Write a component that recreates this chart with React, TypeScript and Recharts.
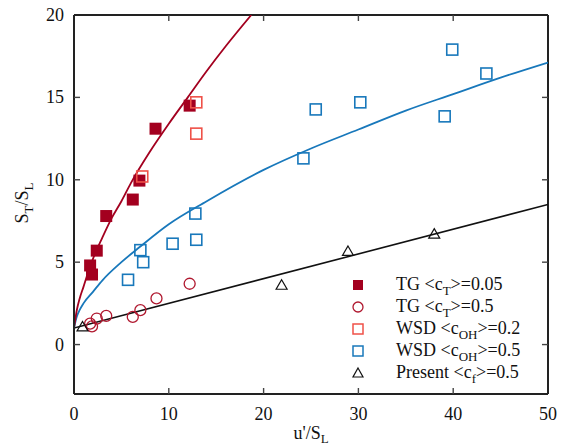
import React from 'react';
import {
  ComposedChart,
  Line,
  Scatter,
  XAxis,
  YAxis,
  ReferenceLine,
} from 'recharts';

const tg005X = [1.7, 1.9, 2.4, 3.4, 6.2, 6.9, 8.6, 12.2];
const tg005Y = [4.8, 4.25, 5.7, 7.8, 8.8, 9.95, 13.1, 14.5];

const tg05X = [1.7, 1.9, 2.4, 3.4, 6.2, 7.0, 8.7, 12.2];
const tg05Y = [1.27, 1.1, 1.58, 1.74, 1.68, 2.09, 2.8, 3.69];

const wsd02X = [7.2, 12.9, 12.9];
const wsd02Y = [10.2, 14.7, 12.8];

const wsd05X = [5.7, 7.0, 7.3, 10.4, 12.8, 12.9, 24.2, 25.5, 30.2, 39.1, 39.9, 43.5];
const wsd05Y = [3.93, 5.73, 5.0, 6.12, 7.95, 6.36, 11.3, 14.27, 14.7, 13.85, 17.9, 16.45];

const presentX = [0.9, 21.9, 28.9, 38.0];
const presentY = [1.07, 3.6, 5.65, 6.7];

// fitted curves
const redX = [0, 0.3, 0.6, 1, 1.5, 2, 3, 4, 5, 6, 8, 10, 12, 14, 16, 18.7];
const redY = [1.0, 2.1, 2.8, 3.5, 4.4, 5.2, 6.5, 7.7, 8.7, 9.8, 11.7, 13.4, 15.0, 16.6, 18.1, 20.0];

const blueX = [0, 0.3, 0.6, 1, 2, 3, 5, 7, 10, 14, 20, 25, 30, 35, 40, 45, 50];
const blueY = [1.0, 1.7, 2.1, 2.5, 3.2, 3.9, 5.0, 5.95, 7.3, 8.7, 10.6, 11.9, 13.05, 14.2, 15.2, 16.2, 17.12];

const blackX = [0, 50];
const blackY = [1.0, 8.5];

const xTicks = [0, 10, 20, 30, 40, 50];
const yTicks = [0, 5, 10, 15, 20];

const pts = (xs: number[], ys: number[]) => xs.map((x, i) => ({ x, y: ys[i] }));

const W = 561;
const H = 447;
const M = { top: 15, right: 13, bottom: 0, left: 0 };
const Y_AXIS_W = 74;
const X_AXIS_H = 53;
const PLOT_L = Y_AXIS_W;
const PLOT_R = W - M.right;
const PLOT_T = M.top;
const PLOT_B = H - X_AXIS_H;

const FONT = '"Liberation Serif", "DejaVu Serif", serif';
const DARK_RED = '#a3001f';
const RED = '#b0182f';
const LIGHT_RED = '#ef5148';
const BLUE = '#1878bb';
const FRAME = '#222';

const FilledSquare = ({ cx, cy }: any) => (
  <rect x={cx - 6} y={cy - 6} width={12} height={12} fill={DARK_RED} />
);
const OpenCircle = ({ cx, cy }: any) => (
  <circle cx={cx} cy={cy} r={5.5} fill="none" stroke={RED} strokeWidth={1.3} />
);
const OpenSquare = (color: string) => ({ cx, cy }: any) => (
  <rect x={cx - 5.5} y={cy - 5.5} width={11} height={11} fill="none" stroke={color} strokeWidth={1.6} />
);
const Triangle = ({ cx, cy }: any) => (
  <path d={`M${cx},${cy - 5.5} L${cx + 5.5},${cy + 4} L${cx - 5.5},${cy + 4} Z`} fill="none" stroke="#111" strokeWidth={1.2} />
);

const XTick = ({ x, y, payload }: any) => {
  const edge = payload.value === 0 || payload.value === 50;
  return (
    <g>
      {!edge && (
        <>
          <line x1={x} x2={x} y1={PLOT_B} y2={PLOT_B - 6} stroke="#444" strokeWidth={1.4} />
          <line x1={x} x2={x} y1={PLOT_T} y2={PLOT_T + 6} stroke="#444" strokeWidth={1.4} />
        </>
      )}
      <text x={x} y={y + 26} textAnchor="middle" fontFamily={FONT} fontSize={18} fill="#111">
        {payload.value}
      </text>
    </g>
  );
};

const YTick = ({ x, y, payload }: any) => {
  const edge = payload.value === 20;
  return (
    <g>
      {!edge && (
        <>
          <line x1={PLOT_L} x2={PLOT_L + 6} y1={y} y2={y} stroke="#444" strokeWidth={1.4} />
          <line x1={PLOT_R} x2={PLOT_R - 6} y1={y} y2={y} stroke="#444" strokeWidth={1.4} />
        </>
      )}
      <text x={x} y={y + 6} textAnchor="end" fontFamily={FONT} fontSize={18} fill="#111">
        {payload.value}
      </text>
    </g>
  );
};

const XLabel = () => (
  <text x={311} y={439} textAnchor="middle" fontFamily={FONT} fontSize={18} fill="#111">
    u'/S<tspan fontSize={13} dy={4}>L</tspan>
  </text>
);

const YLabel = () => (
  <text
    x={0}
    y={0}
    transform="translate(28,203) rotate(-90)"
    textAnchor="middle"
    fontFamily={FONT}
    fontSize={18}
    fill="#111"
  >
    S<tspan fontSize={13} dy={5}>T</tspan>
    <tspan dy={-5}>/S</tspan>
    <tspan fontSize={13} dy={5}>L</tspan>
  </text>
);

const legendItems = [
  { key: 'a', sym: <rect x={2} y={2} width={10} height={10} fill={DARK_RED} />, main: 'TG <c', sub: 'T', tail: '>=0.05' },
  { key: 'b', sym: <circle cx={7} cy={7} r={5} fill="none" stroke={RED} strokeWidth={1.3} />, main: 'TG <c', sub: 'T', tail: '>=0.5' },
  { key: 'c', sym: <rect x={2} y={2} width={10} height={10} fill="none" stroke={LIGHT_RED} strokeWidth={1.5} />, main: 'WSD <c', sub: 'OH', tail: '>=0.2' },
  { key: 'd', sym: <rect x={2} y={2} width={10} height={10} fill="none" stroke={BLUE} strokeWidth={1.5} />, main: 'WSD <c', sub: 'OH', tail: '>=0.5' },
  { key: 'e', sym: <path d="M7,2 L12,11 L2,11 Z" fill="none" stroke="#111" strokeWidth={1.2} />, main: 'Present <c', sub: 'f', tail: '>=0.5' },
];

function LegendBox() {
  return (
    <div style={{ position: 'absolute', left: 351, top: 274, fontFamily: FONT, fontSize: 18, color: '#111' }}>
      {legendItems.map((it) => (
        <div key={it.key} style={{ display: 'flex', alignItems: 'center', height: 22, whiteSpace: 'nowrap' }}>
          <svg width={14} height={14} style={{ marginRight: 31 }}>
            {it.sym}
          </svg>
          <span style={{ lineHeight: '22px' }}>
            {it.main}
            <span style={{ fontSize: 13, position: 'relative', top: 5 }}>{it.sub}</span>
            {it.tail}
          </span>
        </div>
      ))}
    </div>
  );
}

export default function App() {
  return (
    <div style={{ position: 'absolute', left: 0, top: 0, width: W, height: H, background: '#fff' }}>
      <ComposedChart width={W} height={H} margin={M}>
        <XAxis
          dataKey="x"
          type="number"
          domain={[0, 50]}
          ticks={xTicks}
          allowDataOverflow
          tickSize={0}
          tickMargin={0}
          tickLine={false}
          tick={<XTick />}
          axisLine={{ stroke: FRAME, strokeWidth: 2 }}
          height={X_AXIS_H}
          label={<XLabel />}
        />
        <YAxis
          dataKey="y"
          type="number"
          domain={[-3, 20]}
          ticks={yTicks}
          allowDataOverflow
          tickSize={0}
          tickMargin={10}
          tickLine={false}
          tick={<YTick />}
          axisLine={{ stroke: FRAME, strokeWidth: 2 }}
          width={Y_AXIS_W}
          label={<YLabel />}
        />
        <ReferenceLine y={20} stroke={FRAME} strokeWidth={2} />
        <ReferenceLine x={50} stroke={FRAME} strokeWidth={2} />

        <Line data={pts(blackX, blackY)} dataKey="y" type="linear" stroke="#111" strokeWidth={1.6} dot={false} isAnimationActive={false} />
        <Line data={pts(blueX, blueY)} dataKey="y" type="monotone" stroke={BLUE} strokeWidth={1.8} dot={false} isAnimationActive={false} />
        <Line data={pts(redX, redY)} dataKey="y" type="monotone" stroke={DARK_RED} strokeWidth={1.8} dot={false} isAnimationActive={false} />

        <Scatter data={pts(tg05X, tg05Y)} shape={OpenCircle} isAnimationActive={false} />
        <Scatter data={pts(wsd05X, wsd05Y)} shape={OpenSquare(BLUE)} isAnimationActive={false} />
        <Scatter data={pts(presentX, presentY)} shape={Triangle} isAnimationActive={false} />
        <Scatter data={pts(tg005X, tg005Y)} shape={FilledSquare} isAnimationActive={false} />
        <Scatter data={pts(wsd02X, wsd02Y)} shape={OpenSquare(LIGHT_RED)} isAnimationActive={false} />
      </ComposedChart>
      <LegendBox />
    </div>
  );
}
